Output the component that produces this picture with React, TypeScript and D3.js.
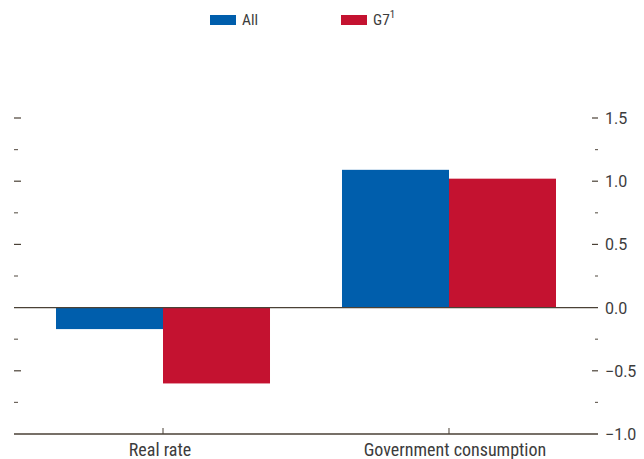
import React from "react";
import * as d3 from "d3";

const categories = ["Real rate", "Government consumption"];
const seriesNames = ["All", "G7"];
const allValues = [-0.17, 1.09];
const g7Values = [-0.6, 1.02];
const majorTicks = [-1.0, -0.5, 0.0, 0.5, 1.0, 1.5];
const minorTicks = [-0.75, -0.25, 0.25, 0.75, 1.25];
const colors = ["#005eac", "#c41230"];

const W = 644;
const H = 459;
const left = 14;
const right = 598;
const top = 118;
const bottom = 434;

export default function App() {
  const y = d3.scaleLinear().domain([-1, 1.5]).range([bottom, top]);
  const x = d3.scalePoint<string>().domain(categories).range([left, right]).padding(0.521);
  const barW = 107;
  const axisColor = "#4a4136";
  const textColor = "#3c3c3c";
  const series = [allValues, g7Values];
  const numFont = "Roboto, sans-serif";
  const labelFont = "'Liberation Sans Narrow', 'Roboto Condensed', Roboto, sans-serif";
  const labelShift = [-3, 6];

  return (
    <svg width={W} height={H} style={{ position: "absolute", left: 0, top: 0 }}>
      {/* legend */}
      <g>
        <rect x={210} y={15} width={26} height={10} fill={colors[0]} />
        <text x={242} y={25} fontFamily={labelFont} fontSize={15.5} fill={textColor}>{seriesNames[0]}</text>
        <rect x={341} y={15} width={26} height={10} fill={colors[1]} />
        <text x={373} y={25} fontFamily={labelFont} fontSize={15.5} fill={textColor}>
          {seriesNames[1]}
          <tspan dy={-7} fontSize={11}>1</tspan>
        </text>
      </g>
      {/* bars */}
      {categories.map((c, i) => {
        const cx = x(c)!;
        return series.map((vals, s) => {
          const v = vals[i];
          const y0 = y(0);
          const y1 = y(v);
          return (
            <rect
              key={c + s}
              x={cx - barW + s * barW}
              y={Math.min(y0, y1)}
              width={barW}
              height={Math.abs(y1 - y0)}
              fill={colors[s]}
            />
          );
        });
      })}
      {/* zero line */}
      <line x1={left} x2={right} y1={y(0)} y2={y(0)} stroke={axisColor} strokeWidth={1.3} />
      {/* bottom axis */}
      <line x1={left} x2={right} y1={bottom} y2={bottom} stroke={axisColor} strokeWidth={1.3} />
      {categories.map((c, i) => (
        <g key={c}>
          <line x1={x(c)} x2={x(c)} y1={bottom - 6} y2={bottom} stroke={axisColor} strokeWidth={1} />
          <text x={x(c)! + labelShift[i]} y={455.5} textAnchor="middle" fontFamily={labelFont} fontSize={18} fill={textColor}>{c}</text>
        </g>
      ))}
      {/* left ticks */}
      {majorTicks.filter((t) => t !== 0 && t !== -1).map((t) => (
        <line key={"lm" + t} x1={14} x2={21} y1={y(t)} y2={y(t)} stroke={axisColor} strokeWidth={1.2} />
      ))}
      {minorTicks.map((t) => (
        <line key={"ln" + t} x1={14} x2={18} y1={y(t)} y2={y(t)} stroke={axisColor} strokeWidth={1.2} opacity={0.8} />
      ))}
      {/* right ticks */}
      {majorTicks.filter((t) => t !== 0 && t !== -1).map((t) => (
        <line key={"rm" + t} x1={592} x2={598} y1={y(t)} y2={y(t)} stroke={axisColor} strokeWidth={1.2} />
      ))}
      {minorTicks.map((t) => (
        <line key={"rn" + t} x1={595} x2={598} y1={y(t)} y2={y(t)} stroke={axisColor} strokeWidth={1.2} opacity={0.8} />
      ))}
      {majorTicks.map((t) => (
        <text key={"rl" + t} x={605} y={y(t) + 6} fontFamily={numFont} fontSize={16} fill={textColor}>
          {d3.format(".1f")(t)}
        </text>
      ))}
    </svg>
  );
}
